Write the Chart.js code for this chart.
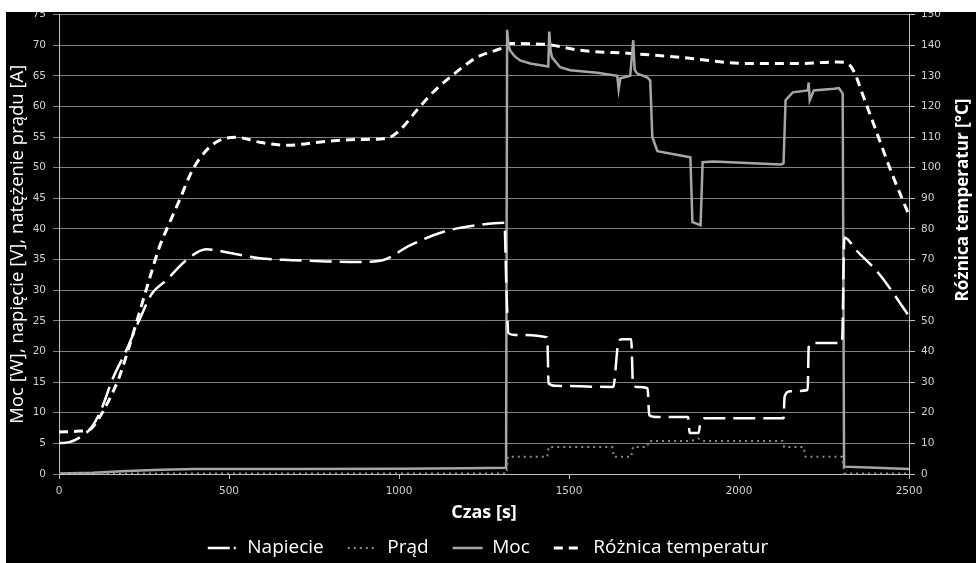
<!doctype html>
<html lang="pl">
  <head>
    <meta charset="utf-8">
    <title>Moc, napięcie, prąd i różnica temperatur</title>
    <style>
      * {
        margin: 0;
        padding: 0;
      }
      body {
        background: #000;
        width: 976px;
        height: 563px;
        overflow: hidden;
        position: relative;
      }
      .chartBox {
        position: absolute;
        left: 0;
        top: 0;
        width: 976px;
        height: 563px;
      }
      .strip {
        position: absolute;
        background: #fff;
      }
      #stripTop { left: 0; top: 0; width: 976px; height: 12px; }
      #stripLeft { left: 0; top: 0; width: 6px; height: 563px; }
    </style>
  </head>
  <body>
    <div class="chartBox">
      <canvas id="myChart"></canvas>
    </div>
    <div class="strip" id="stripTop"></div>
    <div class="strip" id="stripLeft"></div>

    <script src="https://cdn.jsdelivr.net/npm/chart.js/dist/chart.umd.min.js"></script>
    <script>
    // data

    const czasNapiecie = [0, 30, 59, 97, 127, 156, 198, 236, 274, 315, 374, 433, 492, 590, 687, 787, 884, 952,
      1032, 1129, 1229, 1310, 1316, 1322, 1340, 1436, 1440, 1460, 1630, 1645, 1655, 1683, 1688, 1701, 1731,
      1736, 1760, 1850, 1855, 1881, 1887, 1900, 2131, 2134, 2150, 2202, 2205, 2215, 2303, 2310, 2345, 2410, 2500]
    const napiecie = [5.05, 5.2, 5.9, 7.7, 10.9, 15.3, 20.2, 25.1, 29.5, 31.6, 34.9, 36.7, 36.2, 35.2, 34.9, 34.7, 34.6, 34.9,
      37.3, 39.5, 40.6, 41, 30, 23, 22.7, 22.3, 14.8, 14.4, 14.2, 21.4, 22, 22, 14.8, 14.2, 14,
      9.6, 9.3, 9.3, 6.7, 6.7, 8.5, 9.1, 9.1, 12.6, 13.5, 13.7, 20.7, 21.4, 21.4, 38.6, 36.5, 32.8, 25.8]

    const czasPrad = [0, 1316, 1320, 1436, 1440, 1627, 1632, 1683, 1688, 1730, 1735, 1860, 1880, 1895,
      2128, 2133, 2190, 2196, 2303, 2310, 2500]
    const prad = [0.1, 0.1, 2.8, 2.8, 4.4, 4.4, 2.8, 2.8, 4.4, 4.4, 5.4, 5.4, 5.8, 5.4,
      5.4, 4.4, 4.4, 2.8, 2.8, 0.1, 0.1]

    const czasMoc = [0, 100, 200, 300, 400, 700, 1000, 1200, 1315, 1318, 1322, 1327, 1340, 1356, 1386, 1439,
      1442, 1446, 1450, 1474, 1504, 1583, 1642, 1646, 1651, 1680, 1689, 1693, 1700, 1731, 1739, 1745,
      1760, 1828, 1857, 1863, 1887, 1893, 1925, 2123, 2131, 2137, 2158, 2202, 2205, 2208, 2220, 2279,
      2294, 2305, 2309, 2400, 2500]
    const moc = [0.1, 0.2, 0.5, 0.7, 0.8, 0.8, 0.85, 0.95, 1.0, 72.5, 70, 69.1, 68.2, 67.5, 67, 66.5,
      72.2, 69, 68, 66.4, 65.9, 65.5, 65, 62.8, 64.6, 65, 70.8, 66, 65.4, 64.7, 64.2, 55,
      52.7, 52, 51.7, 41.1, 40.6, 50.9, 51, 50.5, 50.7, 61, 62.3, 62.6, 63.9, 61, 62.6, 62.9,
      63, 62.1, 1.2, 1.0, 0.8]

    const czasTemp = [0, 60, 90, 118, 147, 177, 206, 236, 265, 295, 325, 354, 392, 433, 472, 522, 590, 669,
      787, 884, 964, 1002, 1052, 1100, 1150, 1229, 1306, 1327, 1436, 1533, 1680, 1828, 2025, 2173,
      2290, 2320, 2340, 2360, 2400, 2450, 2500]
    const roznicaTemp = [13.7, 14, 14.5, 18.3, 24.1, 31.6, 41.4, 52.5, 63.3, 74, 82, 89.3, 99.1, 105.6, 108.9, 109.9, 108.3, 107.3,
      108.6, 109.2, 109.6, 112.2, 118.7, 124.6, 129.5, 136, 139.2, 140.5, 140.2, 138.3, 137.3, 136, 134, 134,
      134.5, 134, 131, 125, 113, 98, 84.5]

    const toPoints = (xs, ys) => xs.map((x, i) => ({x: x, y: ys[i]}))

    const tickColor = '#d0d0d0'
    const tickFont = {family: '"DejaVu Sans", sans-serif', size: 10.5}

    // right axis title reads bottom-to-top in the original
    const rightTitle = {
      id: 'rightTitle',
      afterDraw: (chart) => {
        const ctx = chart.ctx
        ctx.save()
        ctx.translate(963, 200)
        ctx.rotate(-Math.PI / 2)
        ctx.font = 'bold 17px "Open Sans", sans-serif'
        ctx.fillStyle = '#fff'
        ctx.textAlign = 'center'
        ctx.textBaseline = 'middle'
        ctx.fillText('Różnica temperatur [°C]', 0, 0)
        ctx.restore()
      }
    }

    const data = {
      datasets: [
        {
          label: 'Napiecie',
          data: toPoints(czasNapiecie, napiecie),
          borderColor: '#ffffff',
          borderWidth: 2.5,
          borderDash: [22, 8],
          cubicInterpolationMode: 'monotone',
          yAxisID: 'y'
        },
        {
          label: 'Prąd',
          data: toPoints(czasPrad, prad),
          borderColor: '#8c8c8c',
          borderWidth: 2,
          borderDash: [2, 4],
          yAxisID: 'y'
        },
        {
          label: 'Moc',
          data: toPoints(czasMoc, moc),
          borderColor: '#a6a6a6',
          borderWidth: 2.5,
          yAxisID: 'y'
        },
        {
          label: 'Różnica temperatur',
          data: toPoints(czasTemp, roznicaTemp),
          borderColor: '#ffffff',
          borderWidth: 3,
          borderDash: [9, 6],
          cubicInterpolationMode: 'monotone',
          yAxisID: 'y1'
        }
      ]
    }

    // legend lines take dash and width from the dataset itself
    function legendLabels(chart) {
      const items = Chart.defaults.plugins.legend.labels.generateLabels(chart)
      items.forEach((item) => {
        const ds = chart.data.datasets[item.datasetIndex]
        item.strokeStyle = ds.borderColor
        item.lineWidth = ds.borderWidth
        item.lineDash = ds.borderDash || []
      })
      items[0].lineDash = [22, 4, 2, 10]
      return items
    }

    const config = {
      type: 'line',
      data,
      options: {
        responsive: true,
        maintainAspectRatio: false,
        animation: false,
        elements: {
          point: {radius: 0, hoverRadius: 0}
        },
        layout: {
          padding: {top: 14.5, left: 0, right: 0, bottom: 0}
        },
        plugins: {
          tooltip: {enabled: false},
          legend: {
            position: 'bottom',
            maxHeight: 48.5,
            labels: {
              color: '#ffffff',
              font: {family: '"Open Sans", sans-serif', size: 19},
              usePointStyle: true,
              pointStyle: 'line',
              pointStyleWidth: 30,
              padding: 24,
              generateLabels: legendLabels
            }
          }
        },
        scales: {
          x: {
            type: 'linear',
            min: 0,
            max: 2500,
            ticks: {stepSize: 500, color: tickColor, font: tickFont, padding: 6, format: {useGrouping: false}},
            grid: {drawOnChartArea: false, color: '#bfbfbf', tickLength: 5},
            border: {color: '#bfbfbf'},
            title: {
              display: true,
              text: 'Czas [s]',
              color: '#ffffff',
              font: {family: '"Open Sans", sans-serif', size: 18, weight: 'bold'},
              padding: {top: 0, bottom: -9.3}
            },
            afterFit: (scale) => { scale.height = 40.5 }
          },
          y: {
            position: 'left',
            min: 0,
            max: 75,
            ticks: {stepSize: 5, color: tickColor, font: tickFont, padding: 7},
            grid: {color: '#808080', tickLength: 6},
            border: {color: '#bfbfbf'},
            title: {
              display: true,
              text: 'Moc [W], napięcie [V], natężenie prądu [A]',
              color: '#ffffff',
              font: {family: '"Open Sans", sans-serif', size: 18.5},
              padding: {top: 7, bottom: 0}
            },
            afterFit: (scale) => { scale.width = 59 }
          },
          y1: {
            position: 'right',
            min: 0,
            max: 150,
            ticks: {stepSize: 10, color: tickColor, font: tickFont, padding: 6},
            grid: {drawOnChartArea: false, color: '#bfbfbf', tickLength: 6},
            border: {color: '#bfbfbf'},
            afterFit: (scale) => { scale.width = 67 }
          }
        }
      },
      plugins: [rightTitle]
    }

    const myChart = new Chart(document.getElementById('myChart'), config)
    </script>
  </body>
</html>
